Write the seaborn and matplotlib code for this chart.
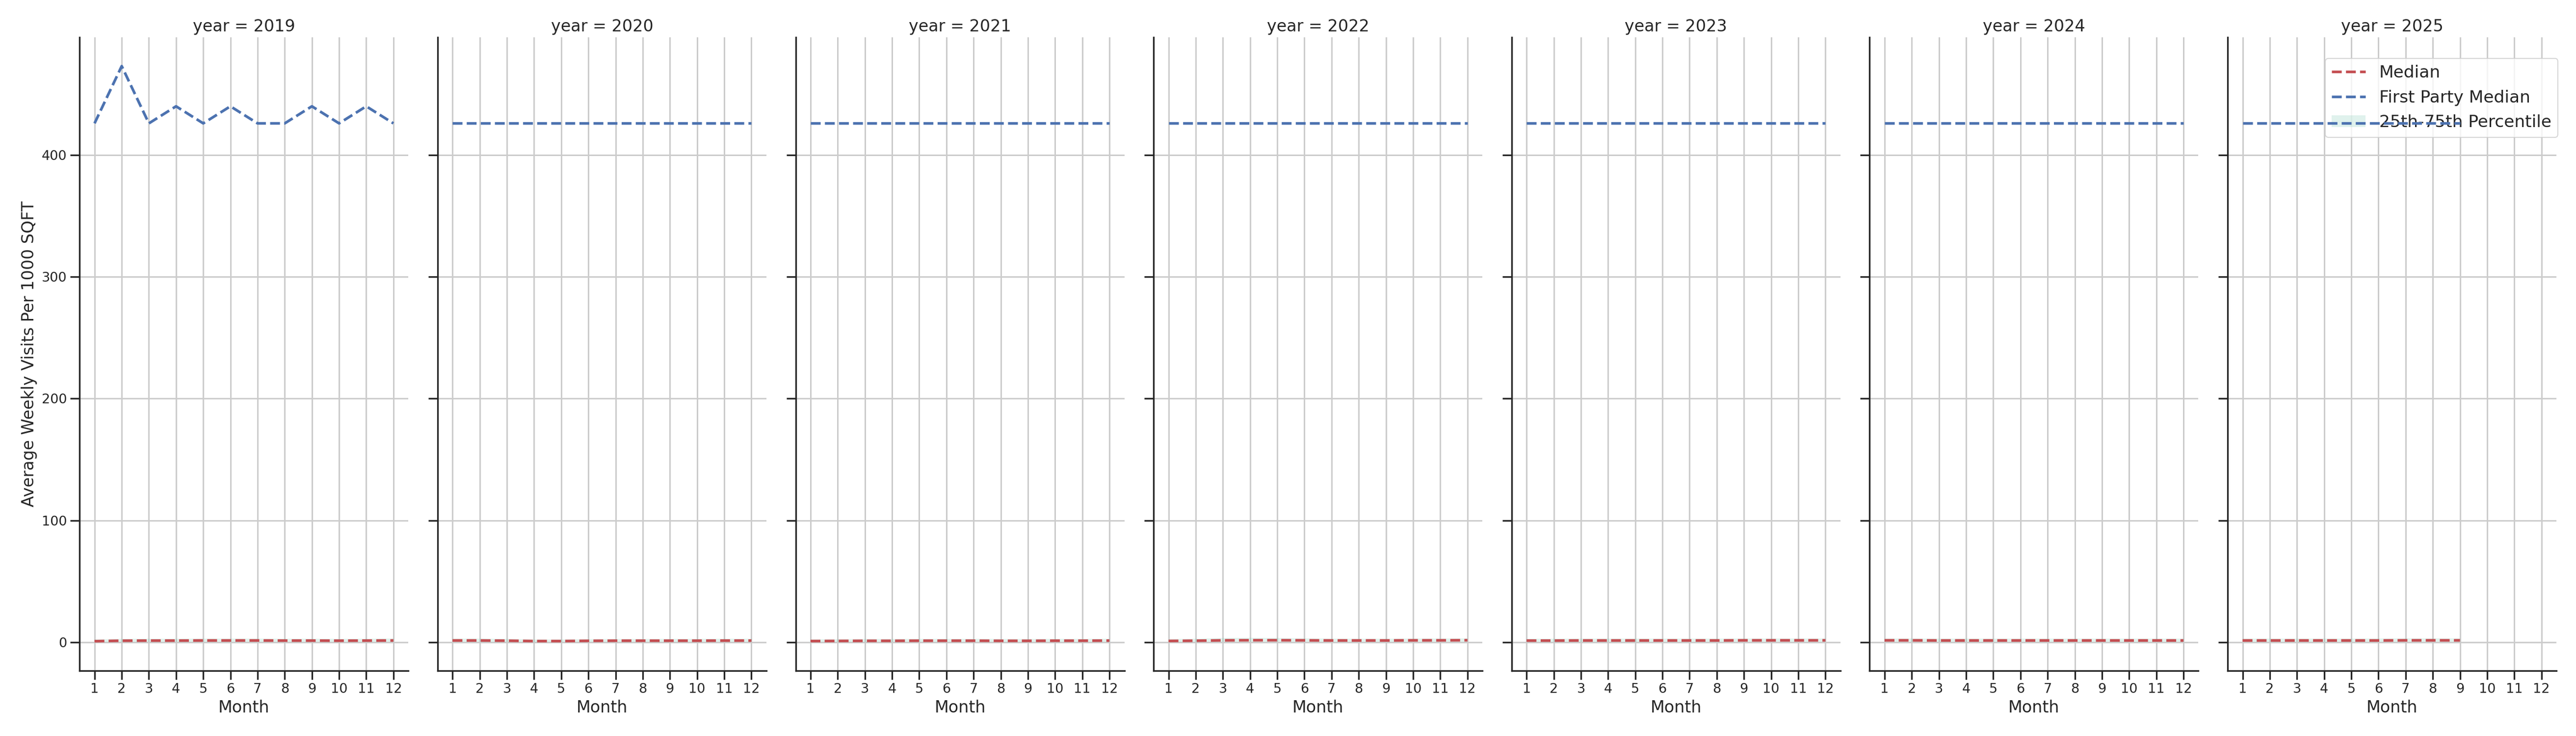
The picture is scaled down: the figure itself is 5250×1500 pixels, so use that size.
import numpy as np
import pandas as pd
import matplotlib
matplotlib.use("Agg")
import matplotlib.pyplot as plt
import seaborn as sns
from matplotlib.lines import Line2D
from matplotlib.patches import Patch

# ---------------- data ----------------
years = [2019, 2020, 2021, 2022, 2023, 2024, 2025]
month_ticks = [1, 2, 3, 4, 5, 6, 7, 8, 9, 10, 11, 12]

months_2019 = [1, 2, 3, 4, 5, 6, 7, 8, 9, 10, 11, 12]
months_2020 = [1, 2, 3, 4, 5, 6, 7, 8, 9, 10, 11, 12]
months_2021 = [1, 2, 3, 4, 5, 6, 7, 8, 9, 10, 11, 12]
months_2022 = [1, 2, 3, 4, 5, 6, 7, 8, 9, 10, 11, 12]
months_2023 = [1, 2, 3, 4, 5, 6, 7, 8, 9, 10, 11, 12]
months_2024 = [1, 2, 3, 4, 5, 6, 7, 8, 9, 10, 11, 12]
months_2025 = [1, 2, 3, 4, 5, 6, 7, 8, 9]

first_party_2019 = [426, 473, 426, 440, 426, 440, 426, 426, 440, 426, 440, 426]
first_party_2020 = [426, 426, 426, 426, 426, 426, 426, 426, 426, 426, 426, 426]
first_party_2021 = [426, 426, 426, 426, 426, 426, 426, 426, 426, 426, 426, 426]
first_party_2022 = [426, 426, 426, 426, 426, 426, 426, 426, 426, 426, 426, 426]
first_party_2023 = [426, 426, 426, 426, 426, 426, 426, 426, 426, 426, 426, 426]
first_party_2024 = [426, 426, 426, 426, 426, 426, 426, 426, 426, 426, 426, 426]
first_party_2025 = [426, 426, 426, 426, 426, 426, 426, 426, 426]

median_2019 = [0.9, 1.3, 1.4, 1.4, 1.5, 1.5, 1.5, 1.4, 1.4, 1.3, 1.4, 1.5]
median_2020 = [1.5, 1.5, 1.3, 1.0, 1.0, 1.2, 1.3, 1.3, 1.3, 1.3, 1.4, 1.4]
median_2021 = [1.0, 1.1, 1.2, 1.2, 1.3, 1.3, 1.3, 1.2, 1.2, 1.3, 1.3, 1.4]
median_2022 = [1.1, 1.3, 1.6, 1.7, 1.7, 1.6, 1.5, 1.5, 1.5, 1.6, 1.6, 1.7]
median_2023 = [1.4, 1.4, 1.5, 1.5, 1.5, 1.5, 1.5, 1.5, 1.6, 1.6, 1.6, 1.6]
median_2024 = [1.6, 1.6, 1.5, 1.5, 1.5, 1.5, 1.5, 1.5, 1.5, 1.5, 1.5, 1.5]
median_2025 = [1.5, 1.5, 1.5, 1.5, 1.5, 1.5, 1.6, 1.6, 1.6]

p25_2019 = [0.3, 0.5, 0.5, 0.5, 0.5, 0.5, 0.5, 0.5, 0.5, 0.5, 0.5, 0.5]
p25_2020 = [0.5, 0.5, 0.4, 0.3, 0.3, 0.4, 0.4, 0.4, 0.4, 0.4, 0.5, 0.5]
p25_2021 = [0.4, 0.4, 0.4, 0.4, 0.5, 0.5, 0.5, 0.4, 0.4, 0.5, 0.5, 0.5]
p25_2022 = [0.4, 0.5, 0.6, 0.6, 0.6, 0.6, 0.5, 0.5, 0.5, 0.6, 0.6, 0.6]
p25_2023 = [0.5, 0.5, 0.5, 0.5, 0.5, 0.5, 0.5, 0.5, 0.6, 0.6, 0.6, 0.6]
p25_2024 = [0.6, 0.6, 0.5, 0.5, 0.5, 0.5, 0.5, 0.5, 0.5, 0.5, 0.5, 0.5]
p25_2025 = [0.5, 0.5, 0.5, 0.5, 0.5, 0.5, 0.6, 0.6, 0.6]

p75_2019 = [2.6, 3.0, 3.1, 3.1, 3.2, 3.2, 3.2, 3.1, 3.1, 3.0, 3.1, 3.3]
p75_2020 = [3.2, 3.2, 3.0, 2.5, 2.5, 2.8, 2.9, 2.9, 3.0, 3.0, 3.1, 3.1]
p75_2021 = [2.6, 2.7, 2.9, 2.9, 3.0, 3.0, 3.0, 2.9, 2.9, 3.0, 3.0, 3.1]
p75_2022 = [2.8, 3.1, 3.7, 3.9, 3.7, 3.4, 3.2, 3.1, 3.1, 3.3, 3.3, 3.4]
p75_2023 = [3.1, 3.1, 3.2, 3.2, 3.2, 3.2, 3.2, 3.2, 3.3, 3.3, 3.3, 3.3]
p75_2024 = [3.3, 3.3, 3.2, 3.2, 3.2, 3.2, 3.2, 3.2, 3.2, 3.2, 3.2, 3.2]
p75_2025 = [3.2, 3.2, 3.2, 3.2, 3.2, 3.3, 3.4, 3.4, 3.4]

months_by_year = [months_2019, months_2020, months_2021, months_2022,
                  months_2023, months_2024, months_2025]
first_party_by_year = [first_party_2019, first_party_2020, first_party_2021,
                       first_party_2022, first_party_2023, first_party_2024,
                       first_party_2025]
median_by_year = [median_2019, median_2020, median_2021, median_2022,
                  median_2023, median_2024, median_2025]
p25_by_year = [p25_2019, p25_2020, p25_2021, p25_2022, p25_2023, p25_2024, p25_2025]
p75_by_year = [p75_2019, p75_2020, p75_2021, p75_2022, p75_2023, p75_2024, p75_2025]

frames = []
for yr, m, fp, md, lo, hi in zip(years, months_by_year, first_party_by_year,
                                 median_by_year, p25_by_year, p75_by_year):
    frames.append(pd.DataFrame({"year": yr, "Month": m, "FirstParty": fp,
                                "Median": md, "p25": lo, "p75": hi}))
df = pd.concat(frames, ignore_index=True)

# ---------------- style ----------------
RED = "#c44e52"
BLUE = "#4c72b0"
BAND = "#66c2a5"

sns.set_theme(style="whitegrid", rc={
    "xtick.bottom": True, "ytick.left": True,
    "axes.edgecolor": "0.15", "axes.linewidth": 1.6,
    "grid.linewidth": 1.45, "grid.color": "0.8",
    "xtick.major.size": 8.5, "ytick.major.size": 9,
    "xtick.major.width": 1.6, "ytick.major.width": 1.6,
    "xtick.labelsize": 13, "ytick.labelsize": 13,
    "axes.labelsize": 16, "axes.titlesize": 16.5,
    "legend.fontsize": 16.5,
})
plt.rcParams["font.family"] = ["DejaVu Sans"]


def draw(data, **kws):
    ax = plt.gca()
    ax.fill_between(data["Month"], data["p25"], data["p75"],
                    color=BAND, alpha=0.2, linewidth=0, zorder=3)
    sns.lineplot(data=data, x="Month", y="Median", color=RED,
                 linestyle="--", linewidth=2.6, ax=ax, zorder=6)
    sns.lineplot(data=data, x="Month", y="FirstParty", color=BLUE,
                 linestyle="--", linewidth=2.6, ax=ax, zorder=6)


g = sns.FacetGrid(df, col="year", col_order=years, height=10, aspect=0.5,
                  sharey=True, sharex=True, despine=True)
g.map_dataframe(draw)
g.set_titles("year = {col_name}")
g.set_axis_labels("Month", "Average Weekly Visits Per 1000 SQFT")
pad = 0.05 * (month_ticks[-1] - month_ticks[0])
for ax in g.axes.flat:
    ax.set_xticks(month_ticks)
    ax.set_xticklabels([str(m) for m in month_ticks])
    ax.set_xlim(month_ticks[0] - pad, month_ticks[-1] + pad)
    ax.grid(True, axis="both")

handles = [
    Line2D([0], [0], color=RED, linestyle="--", linewidth=2.6),
    Line2D([0], [0], color=BLUE, linestyle="--", linewidth=2.6),
    Patch(facecolor=BAND, alpha=0.2, edgecolor="none"),
]
labels = ["Median", "First Party Median", "25th-75th Percentile"]
last_ax = g.axes.flat[-1]
leg = last_ax.legend(handles, labels, loc="upper right",
                     bbox_to_anchor=(1.005, 0.967), borderaxespad=0,
                     frameon=True, framealpha=0.8)
leg.set_zorder(5)

g.figure.subplots_adjust(left=0.0309, right=0.9924, bottom=0.0887,
                         top=0.9493, wspace=0.089)
g.figure.savefig("out.png", dpi=150)
